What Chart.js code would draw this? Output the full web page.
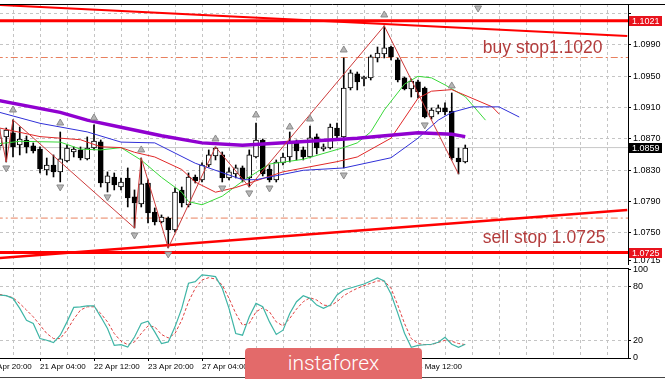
<!DOCTYPE html>
<html>
<head>
<meta charset="utf-8">
<title>EURUSD H4</title>
<style>
  html, body { margin: 0; padding: 0; background: #fff; }
  body { position: relative; width: 665px; height: 379px; overflow: hidden; }
  canvas { position: absolute; left: 0; display: block; }
  #mainChart { top: 0; }
  #stochChart { top: 265px; }
  #baseLine { position: absolute; left: 0; top: 377px; width: 665px; height: 1px; background: #444; }
  #logo { position: absolute; left: 245px; top: 348px; width: 177px; height: 31px;
          background: #e36a6a; border-radius: 4px 4px 0 0; color: #fff;
          font: 300 21px Roboto, "Open Sans", sans-serif; line-height: 30px; text-align: center; }
</style>
</head>
<body>
<canvas id="mainChart" width="665" height="265"></canvas>
<canvas id="stochChart" width="665" height="114"></canvas>
<div id="baseLine"></div>
<div id="logo">instaforex</div>
<script src="https://cdn.jsdelivr.net/npm/chart.js@4.4.1/dist/chart.umd.min.js"></script>
<script>
// EURUSD H4 candles, bar 0 = 20 Apr 04:00 ... bar 69 = 5 May 16:00
const opens = [
  1.08611, 1.08726, 1.08777, 1.08623, 1.08687, 1.08611, 1.08572, 1.08304, 1.08368, 1.08279,
  1.08419, 1.08534, 1.08560, 1.08445, 1.08585, 1.08662, 1.08138, 1.08215, 1.08087, 1.08202,
  1.07960, 1.07870, 1.08138, 1.07768, 1.07640, 1.07691, 1.07538, 1.08049, 1.07857, 1.08215,
  1.08177, 1.08368, 1.08483, 1.08496, 1.08202, 1.08253, 1.08330, 1.08202, 1.08470, 1.08687,
  1.08317, 1.08177, 1.08394, 1.08470, 1.08649, 1.08560, 1.08470, 1.08726, 1.08572, 1.08585,
  1.08840, 1.08726, 1.09351, 1.09530, 1.09466, 1.09479, 1.09734, 1.09785, 1.09874, 1.09709,
  1.09479, 1.09338, 1.09428, 1.09351, 1.08981, 1.09045, 1.09096, 1.09057, 1.08457, 1.08406
];
const highs = [
  1.08828, 1.08840, 1.08943, 1.08853, 1.08738, 1.08649, 1.08598, 1.08457, 1.08496, 1.08789,
  1.08623, 1.08598, 1.08598, 1.08726, 1.08879, 1.08687, 1.08279, 1.08266, 1.08202, 1.08330,
  1.08049, 1.08457, 1.08177, 1.07819, 1.07730, 1.07704, 1.08075, 1.08087, 1.08266, 1.08240,
  1.08394, 1.08560, 1.08598, 1.08534, 1.08330, 1.08368, 1.08355, 1.08560, 1.08904, 1.08700,
  1.08368, 1.08432, 1.08521, 1.08789, 1.08687, 1.08598, 1.08866, 1.08764, 1.08636, 1.08891,
  1.08904, 1.09734, 1.09581, 1.09555, 1.09504, 1.09772, 1.09874, 1.10143, 1.09887, 1.09734,
  1.09491, 1.09466, 1.09453, 1.09364, 1.09096, 1.09134, 1.09160, 1.09287, 1.08585, 1.08623
];
const lows = [
  1.08560, 1.08406, 1.08470, 1.08496, 1.08521, 1.08521, 1.08266, 1.08240, 1.08215, 1.08151,
  1.08406, 1.08470, 1.08432, 1.08432, 1.08560, 1.08087, 1.08023, 1.08049, 1.08049, 1.07832,
  1.07564, 1.07832, 1.07628, 1.07602, 1.07628, 1.07309, 1.07513, 1.07832, 1.07832, 1.08138,
  1.08151, 1.08343, 1.08432, 1.08151, 1.08177, 1.08202, 1.08151, 1.08087, 1.08457, 1.08228,
  1.08151, 1.08151, 1.08368, 1.08406, 1.08432, 1.08432, 1.08457, 1.08509, 1.08547, 1.08572,
  1.08700, 1.08330, 1.09326, 1.09326, 1.09377, 1.09453, 1.09683, 1.09734, 1.09709, 1.09428,
  1.09326, 1.09236, 1.09223, 1.08968, 1.08955, 1.09019, 1.09006, 1.08432, 1.08253, 1.08394
];
const closes = [
  1.08713, 1.08815, 1.08598, 1.08700, 1.08598, 1.08547, 1.08317, 1.08368, 1.08279, 1.08445,
  1.08585, 1.08572, 1.08457, 1.08585, 1.08674, 1.08138, 1.08228, 1.08113, 1.08151, 1.07947,
  1.07883, 1.08126, 1.07755, 1.07640, 1.07704, 1.07538, 1.08023, 1.07883, 1.08215, 1.08164,
  1.08368, 1.08496, 1.08585, 1.08202, 1.08279, 1.08330, 1.08189, 1.08496, 1.08687, 1.08253,
  1.08177, 1.08406, 1.08470, 1.08662, 1.08547, 1.08470, 1.08713, 1.08585, 1.08598, 1.08853,
  1.08738, 1.09351, 1.09543, 1.09428, 1.09491, 1.09747, 1.09798, 1.09862, 1.09747, 1.09453,
  1.09338, 1.09440, 1.09300, 1.08981, 1.09070, 1.09096, 1.09045, 1.08457, 1.08406, 1.08585
];

// time axis labels (bar index -> text)
const tickBars = [-2, 6, 14, 22, 30, 38, 46, 54, 62];
const tickLabels = ['17 Apr 20:00', '21 Apr 04:00', '22 Apr 12:00', '23 Apr 20:00', '27 Apr 04:00',
                    '28 Apr 12:00', '29 Apr 20:00', '1 May 04:00', '4 May 12:00'];
const priceTicks = [1.0715, 1.0750, 1.0790, 1.0830, 1.0870, 1.0910, 1.0950, 1.0990, 1.1030];
const stochTicks = [0, 20, 80, 100];

// indicators: [bar, price]
const maLine = [[0, 1.0919], [9, 1.0904], [13, 1.0894], [18, 1.0885], [24, 1.0874], [30, 1.0865],
                [36, 1.0862], [44, 1.0866], [53, 1.0871], [62, 1.0878], [67, 1.0876], [69, 1.0873]];
const jaw = [[0, 1.0904], [6, 1.0890], [13, 1.0879], [18, 1.0866], [23, 1.0865], [29, 1.0839],
             [36, 1.0818], [38, 1.0818], [45, 1.0830], [51, 1.0833], [58, 1.0846], [62, 1.0871],
             [65, 1.0894], [67, 1.0904], [70, 1.0911], [74, 1.0911], [77, 1.0898]];
const teeth = [[0, 1.0884], [6, 1.0873], [12, 1.0869], [15, 1.0860], [18, 1.0859], [20, 1.0853],
               [23, 1.0847], [27, 1.0831], [29, 1.0815], [32, 1.0802], [35, 1.0808], [42, 1.0828],
               [50, 1.0841], [53, 1.0847], [58, 1.0871], [62, 1.0922], [64, 1.0931], [67, 1.0933],
               [70, 1.0922], [73, 1.0911], [74, 1.0902]];
const lips = [[0, 1.0864], [3, 1.0867], [9, 1.0866], [12, 1.0857], [15, 1.0856], [18, 1.0859],
              [21, 1.0843], [24, 1.0821], [27, 1.0802], [28, 1.0790], [30, 1.0786], [33, 1.0797],
              [36, 1.0816], [40, 1.0838], [45, 1.0844], [51, 1.0859], [53, 1.0865], [55, 1.0879],
              [57, 1.0907], [60, 1.0940], [62, 1.0950], [64, 1.0948], [66, 1.0939], [69, 1.0924],
              [72, 1.0894]];
const zigzag = [[0, 1.08828], [1, 1.08406], [2, 1.08943], [20, 1.07564], [21, 1.08457],
                [25, 1.07309], [32, 1.08598], [37, 1.08087], [57, 1.10143], [68, 1.08253]];
const fractalUp = [[2, 1.09070], [9, 1.08904], [14, 1.08968], [21, 1.08560], [32, 1.08700],
                   [38, 1.09006], [43, 1.08853], [46, 1.08955], [51, 1.09836], [57, 1.10283],
                   [67, 1.09377]];
const fractalDown = [[1, 1.08330], [9, 1.08087], [16, 1.07960], [20, 1.07474], [25, 1.07232],
                     [33, 1.08074], [37, 1.08011], [40, 1.08074], [51, 1.08240], [63, 1.08879]];
const chartShift = [[70.9, 1.10372]];

// drawn objects
const upperTrend = [[0, 1.10411], [93, 1.10015]];
const lowerTrend = [[0, 1.07181], [93, 1.07794]];
const resistance = 1.1021;
const support = 1.0725;
const buyStopLevel = 1.0974;
const sellStopLevel = 1.0769;
const lastPrice = 1.0859;
const priceTags = [resistance, lastPrice, support];
const noteTexts = ['buy stop1.1020', 'sell stop 1.0725'];

// stochastic
const stochMain = [
  70.9, 70.2, 67.2, 55.9, 42.6, 38.9, 21.9, 20, 17.4, 25.7,
  40.7, 57, 57.7, 58.8, 58.8, 46.4, 33.2, 14.3, 15.1, 12.4,
  23.7, 38.9, 41.5, 29.4, 16.3, 18.1, 35.1, 55.9, 84.2, 86,
  93.6, 92.8, 91.7, 78.5, 55.9, 27.6, 25.7, 46.4, 61.5, 57.7,
  40.7, 26.5, 31.3, 50.2, 63.4, 70.2, 67.2, 59.6, 55.9, 59.6,
  71, 76.6, 78.9, 81.1, 83.4, 86.8, 90.2, 86.8, 72.1, 50.6,
  27.9, 12.1, 14.3, 14.9, 15.5, 17.7, 23.4, 15.5, 12.1, 15.5
];
const stochSignal = [
  71.7, 70.2, 67.9, 61.5, 54, 46.4, 37, 27.6, 21.9, 21.9,
  31.3, 43.8, 54, 57.7, 57.7, 50.2, 40.7, 27.6, 18.9, 15.1,
  18.1, 27.6, 36.2, 35.1, 26.5, 22.6, 27.6, 42.6, 63.4, 78.5,
  87.9, 90.5, 89, 82.3, 67.2, 50.2, 37, 38.9, 52, 56.6,
  52, 40.7, 36.2, 44.6, 55.1, 63.4, 67.9, 65.3, 59.6, 58.8,
  63.4, 70.2, 74.7, 78.5, 81.5, 84.2, 86.8, 86.8, 78.5, 59.6,
  38.9, 21.9, 16.3, 15.1, 15.1, 17.4, 20, 18.9, 16.3, 15.1
];

Chart.defaults.font.family = '"Liberation Sans", Arial, sans-serif';
Chart.defaults.font.size = 9;
Chart.defaults.color = '#000';

const GRID = '#c4c4c4';
const NONE = 'rgba(0,0,0,0)';
const gridBars = [];
for (let n = -2; n <= 92; n += 4) gridBars.push(n);

const pts = arr => arr.map(p => ({x: p[0], y: p[1]}));
const flat = v => [{x: -5, y: v}, {x: 100, y: v}];

// scales must not push the plot area in for their labels
function noPad(s) {
  s.paddingLeft = 0; s.paddingRight = 0; s.paddingTop = 0; s.paddingBottom = 0;
}

function lineDs(data, color, width, order, extra) {
  return Object.assign({
    type: 'line', data: data, borderColor: color, borderWidth: width,
    pointRadius: 0, fill: false, tension: 0, order: order
  }, extra || {});
}
function markerDs(data, down) {
  return {
    type: 'line', data: pts(data), showLine: false, order: 0,
    pointStyle: 'triangle', pointRadius: 4, pointRotation: down ? 180 : 0,
    pointBackgroundColor: '#b6b6b6', pointBorderColor: '#8a8a8a', pointBorderWidth: 1
  };
}

function timeAxis(showLabels) {
  return {
    type: 'linear', min: 0.074, max: 93.11, offset: false,
    afterBuildTicks: s => { s.ticks = gridBars.map(v => ({value: v})); },
    afterFit: s => { s.height = showLabels ? 21 : 0; noPad(s); },
    grid: {
      color: GRID, offset: false, drawTicks: showLabels, tickLength: 3,
      tickColor: c => (c.tick && tickBars.includes(c.tick.value)) ? '#000' : NONE
    },
    border: { color: '#000', dash: [3, 3] },
    ticks: {
      display: showLabels, autoSkip: false, maxRotation: 0, minRotation: 0,
      align: 'start', padding: 1, font: { size: 8 },
      callback: v => { const k = tickBars.indexOf(v); return k >= 0 ? tickLabels[k] : ''; }
    }
  };
}

const mainDecor = {
  id: 'mainDecor',
  afterDatasetsDraw(chart) {
    const {ctx, scales: {x, y}} = chart;
    ctx.save();
    ctx.fillStyle = '#b33c3c';
    ctx.font = '17.5px "Liberation Sans", Arial, sans-serif';
    ctx.textBaseline = 'alphabetic';
    ctx.fillText(noteTexts[0], x.getPixelForValue(71.6), y.getPixelForValue(1.09794));
    ctx.fillText(noteTexts[1], x.getPixelForValue(71.6), y.getPixelForValue(1.07376));
    ctx.restore();
  },
  afterDraw(chart) {
    const {ctx, chartArea, scales: {y}} = chart;
    ctx.save();
    ctx.strokeStyle = '#000';
    ctx.lineWidth = 1;
    ctx.beginPath();
    ctx.moveTo(0, chartArea.top + 0.5);
    ctx.lineTo(chart.width, chartArea.top + 0.5);
    ctx.stroke();
    const tagColors = ['#e8121c', '#000', '#e8121c'];
    ctx.font = '9px "Liberation Sans", Arial, sans-serif';
    ctx.textBaseline = 'middle';
    priceTags.forEach((v, i) => {
      const py = Math.round(y.getPixelForValue(v));
      ctx.fillStyle = tagColors[i];
      ctx.fillRect(chartArea.right + 1, py - 5, 33, 10);
      ctx.fillStyle = '#fff';
      ctx.fillText(v.toFixed(4), chartArea.right + 4, py + 0.5);
    });
    ctx.restore();
  }
};

const stochFrame = {
  id: 'stochFrame',
  afterDraw(chart) {
    const {ctx, chartArea} = chart;
    ctx.save();
    ctx.strokeStyle = '#000';
    ctx.lineWidth = 1;
    ctx.beginPath();
    ctx.moveTo(0, chartArea.top + 0.5);
    ctx.lineTo(chartArea.right, chartArea.top + 0.5);
    ctx.stroke();
    ctx.restore();
  }
};

const bodyData = opens.map((o, i) => ({x: i, y: [o, closes[i]]}));
const wickData = lows.map((l, i) => ({x: i, y: [l, highs[i]]}));

new Chart(document.getElementById('mainChart'), {
  type: 'line',
  data: {
    datasets: [
      markerDs(fractalUp, false),
      markerDs(fractalDown, true),
      markerDs(chartShift, true),
      lineDs(pts(zigzag), '#cc3a3a', 1, 1),
      lineDs(pts(maLine), '#9000d0', 3.5, 2),
      lineDs(pts(jaw), '#3030d8', 1, 2),
      lineDs(pts(teeth), '#e02828', 1, 2),
      lineDs(pts(lips), '#3ad83a', 1, 2),
      lineDs(pts(upperTrend), '#ff0000', 2, 3),
      lineDs(pts(lowerTrend), '#ff0000', 2.5, 3),
      lineDs(flat(resistance), '#ff0000', 3, 3),
      lineDs(flat(support), '#ff0000', 3, 3),
      {
        type: 'bar', data: bodyData, grouped: false, barThickness: 5, order: 5,
        backgroundColor: bodyData.map((d, i) => closes[i] >= opens[i] ? '#fff' : '#000'),
        borderColor: '#000', borderWidth: 1, borderSkipped: false
      },
      {
        type: 'bar', data: wickData, grouped: false, barThickness: 1, order: 6,
        backgroundColor: '#000', borderWidth: 0
      },
      lineDs(flat(buyStopLevel), '#e8805e', 1, 7, { borderDash: [7, 3, 2, 3] }),
      lineDs(flat(sellStopLevel), '#e8805e', 1, 7, { borderDash: [7, 3, 2, 3] }),
      lineDs(flat(lastPrice), '#c8c8c8', 1, 8)
    ]
  },
  options: {
    responsive: false,
    animation: false,
    events: [],
    layout: { padding: { top: 4, right: 0, bottom: 0, left: 0 }, autoPadding: false },
    plugins: { legend: { display: false }, tooltip: { enabled: false } },
    scales: {
      x: timeAxis(false),
      y: {
        type: 'linear', position: 'right', min: 1.07091, max: 1.10423,
        afterBuildTicks: s => { s.ticks = priceTicks.map(v => ({value: v})); },
        afterFit: s => { s.width = 37; noPad(s); },
        grid: {
          color: c => (c.tick && c.tick.value === priceTicks[0]) ? NONE : GRID,
          tickLength: 3, tickColor: '#000'
        },
        border: { color: '#000', dash: [3, 3] },
        ticks: {
          padding: 2, font: { size: 9 },
          // the top grid level sits under the resistance tag and shows no label
          callback: v => v === priceTicks[priceTicks.length - 1] ? '' : v.toFixed(4)
        }
      }
    }
  },
  plugins: [mainDecor]
});

new Chart(document.getElementById('stochChart'), {
  type: 'line',
  data: {
    datasets: [
      lineDs(stochMain.map((v, i) => ({x: i, y: v})), '#3fb5a6', 1.2, 0),
      lineDs(stochSignal.map((v, i) => ({x: i, y: v})), '#e04040', 1, 1, { borderDash: [3, 2] })
    ]
  },
  options: {
    responsive: false,
    animation: false,
    events: [],
    layout: { padding: { top: 3, right: 0, bottom: 0, left: 0 }, autoPadding: false },
    plugins: { legend: { display: false }, tooltip: { enabled: false } },
    scales: {
      x: timeAxis(true),
      y: {
        type: 'linear', position: 'right', min: 0, max: 101.4,
        afterBuildTicks: s => { s.ticks = stochTicks.map(v => ({value: v})); },
        afterFit: s => { s.width = 37; noPad(s); },
        grid: {
          color: c => (c.tick && (c.tick.value === 20 || c.tick.value === 80)) ? GRID : NONE,
          tickLength: 3, tickColor: '#000'
        },
        border: { color: '#000', dash: [3, 3] },
        ticks: { padding: 2, font: { size: 9 } }
      }
    }
  },
  plugins: [stochFrame]
});
</script>
</body>
</html>
